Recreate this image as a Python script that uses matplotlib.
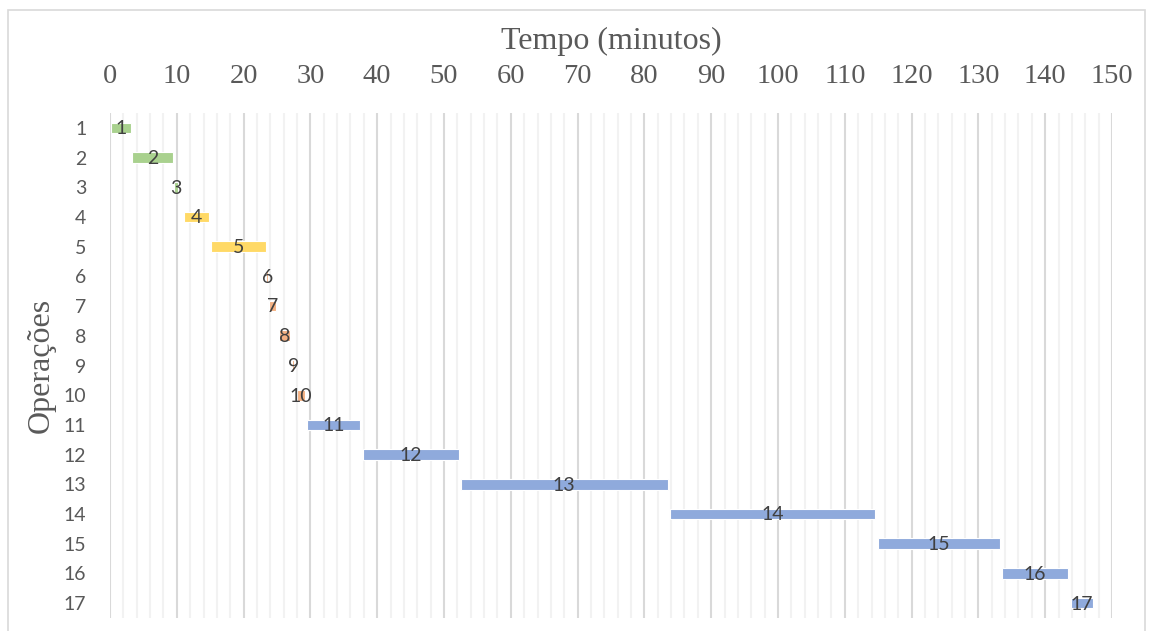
import matplotlib
matplotlib.use("Agg")
import matplotlib.pyplot as plt
from matplotlib.patches import Rectangle
import numpy as np

# ---- data ----
operations = [str(i) for i in range(1, 18)]
starts = [0.2, 3.3, 9.6, 11.1, 15.1, 23.4, 23.8, 25.3, 27.3, 28.0,
          29.5, 37.8, 52.5, 83.8, 114.9, 133.6, 143.8]
durations = [2.9, 6.1, 0.6, 3.7, 8.2, 0.3, 1.1, 1.6, 0.3, 1.2,
             7.9, 14.4, 31.0, 30.7, 18.3, 9.8, 3.3]
groups = ["g", "g", "g", "y", "y", "o", "o", "o", "o", "o",
          "b", "b", "b", "b", "b", "b", "b"]
group_colors = {"g": "#A9D18E", "y": "#FFD966", "o": "#F4B183", "b": "#8FAADC"}
xticks = list(range(0, 151, 10))
x_title = "Tempo (minutos)"
y_title = "Operações"

fig = plt.figure(figsize=(11.5, 6.31), dpi=100)
ax = fig.add_axes([110 / 1150, 1 - 618 / 631, (1112 - 110) / 1150, (618 - 113) / 631])

ypos = np.arange(1, len(operations) + 1)
ax.barh(ypos, durations, left=starts, height=0.36,
        color=[group_colors[g] for g in groups], edgecolor="white",
        linewidth=0.8, zorder=3)

for y, s, d, lab in zip(ypos, starts, durations, operations):
    ax.text(s + d / 2, y + 0.03, lab, ha="center", va="center", fontsize=14,
            family=["Lato", "DejaVu Sans"], color="#404040", zorder=4)

ax.set_xlim(0, 150)
ax.set_ylim(17.5, 0.5)
ax.set_yticks(ypos)
ax.set_yticklabels(operations, family=["Lato", "DejaVu Sans"], fontsize=14,
                   color="#595959")
ax.set_xticks(xticks)
ax.set_xticklabels([str(t) for t in xticks], family=["Liberation Serif"],
                   fontsize=20.5, color="#595959")
ax.xaxis.tick_top()
ax.tick_params(axis="x", length=0, pad=17)
ax.tick_params(axis="y", length=0, pad=17)
ax.set_xticks(np.arange(0, 151, 2), minor=True)
ax.tick_params(axis="x", which="minor", length=0)
ax.grid(axis="x", which="major", color="#D9D9D9", linewidth=1.5, zorder=0)
ax.grid(axis="x", which="minor", color="#F2F2F2", linewidth=1.5, zorder=0)
for sp in ax.spines.values():
    sp.set_visible(False)

fig.text(611 / 1150, 1 - 41 / 631, x_title, ha="center", va="center",
         family="Liberation Serif", fontsize=23, color="#595959")
fig.text(41 / 1150, 1 - 365 / 631, y_title, ha="center", va="center",
         rotation=90, family="Liberation Serif", fontsize=23, color="#595959")

fig.patches.append(Rectangle((8 / 1150, -0.01), (1145 - 8) / 1150, 1 - 10 / 631 + 0.01,
                             transform=fig.transFigure, fill=False,
                             edgecolor="#D9D9D9", linewidth=1.2))

fig.savefig("out.png", dpi=100, facecolor="white")
